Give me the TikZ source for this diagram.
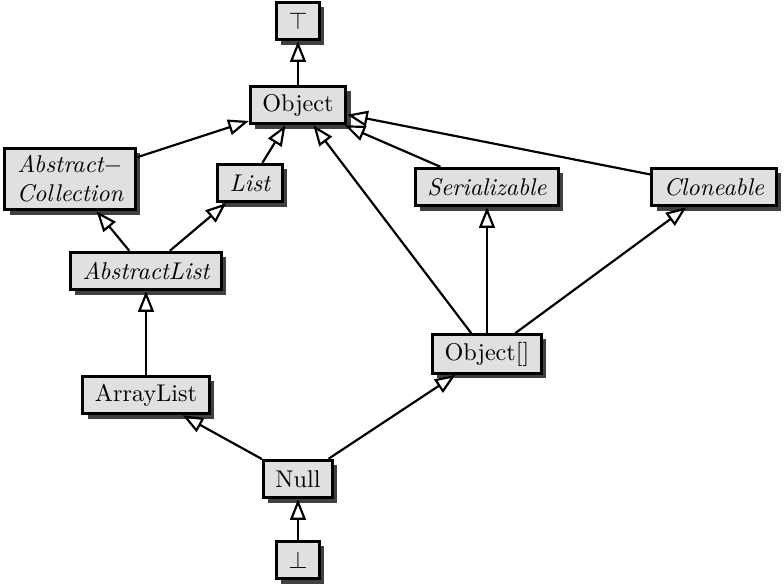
\documentclass[tikz,border=0pt]{standalone}
\usetikzlibrary{arrows.meta,shadows}

\begin{document}
\begin{tikzpicture}[x=0.4133pt,y=-0.4133pt,
    cls/.style={draw,line width=1.2pt,fill=black!12,inner xsep=5pt,inner ysep=3pt,
        minimum height=15.5pt,align=center,
        drop shadow={shadow xshift=2pt,shadow yshift=-2pt,fill=black!75,opacity=1}},
    iface/.style={cls,font=\itshape},
    isa/.style={-{Triangle[open,length=8.5pt,width=6.5pt]},line width=0.9pt}]
    \useasboundingbox (0,0) rectangle (784,588);

    \node[cls] (top) at (298,21) {$\top$};
    \node[cls] (obj) at (298,105) {Object};
    \node[iface] (acoll) at (70,179) {Abstract$-$\\Collection};
    \node[iface] (list) at (250,183) {List};
    \node[iface] (ser) at (487,187) {Serializable};
    \node[iface] (clone) at (714,187) {Cloneable};
    \node[iface] (alist) at (146,271) {AbstractList};
    \node[cls] (objarr) at (487,354) {Object[]};
    \node[cls] (arrlist) at (146,395) {ArrayList};
    \node[cls] (null) at (298,479) {Null};
    \node[cls] (bot) at (298,560) {$\bot$};

    \draw[isa] (obj) -- (top);
    \draw[isa] (acoll) -- (obj);
    \draw[isa] (list) -- (obj);
    \draw[isa] (ser) -- (obj);
    \draw[isa] (clone) -- (obj);
    \draw[isa] (objarr) -- (obj);
    \draw[isa] (alist) -- (acoll);
    \draw[isa] (alist) -- (list);
    \draw[isa] (arrlist) -- (alist);
    \draw[isa] (objarr) -- (ser);
    \draw[isa] (objarr) -- (clone);
    \draw[isa] (null) -- (arrlist);
    \draw[isa] (null) -- (objarr);
    \draw[isa] (bot) -- (null);
\end{tikzpicture}
\end{document}
